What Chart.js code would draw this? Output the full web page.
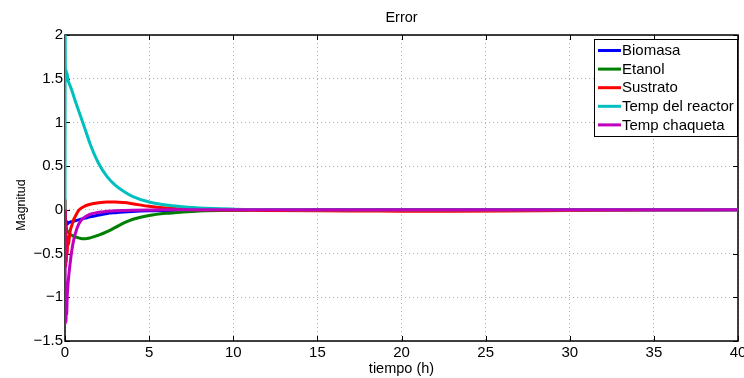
<!DOCTYPE html>
<html>
<head>
<meta charset="utf-8">
<script src="https://cdn.jsdelivr.net/npm/chart.js@4.4.1/dist/chart.umd.min.js"></script>
<style>
  html, body { margin: 0; padding: 0; background: #fff; }
</style>
</head>
<body>
<canvas id="errorChart" width="744" height="378"></canvas>
<script>
// time grid (h), dense near 0 where the transients are
const tiempo   = [0, 0.01, 0.02, 0.04, 0.06, 0.08, 0.1, 0.13, 0.16, 0.2, 0.3, 0.4, 0.5, 0.6, 0.8, 1, 1.2, 1.5, 2, 2.5, 3, 3.5, 4, 5, 6, 7, 8, 10, 12, 15, 18, 20, 23, 26, 30, 35, 40];

const biomasa  = [0, -0.1, -0.15, -0.12, -0.18, -0.13, -0.17, -0.14, -0.16, -0.15, -0.14, -0.135, -0.13, -0.125, -0.115, -0.105, -0.095, -0.08, -0.06, -0.042, -0.032, -0.024, -0.018, -0.01, -0.006, -0.004, -0.003, -0.001, 0, 0, 0, 0, 0, 0, 0, 0, 0];
const etanol   = [0, -0.05, -0.1, -0.15, -0.18, -0.2, -0.22, -0.24, -0.25, -0.26, -0.28, -0.29, -0.3, -0.31, -0.32, -0.33, -0.33, -0.32, -0.29, -0.25, -0.2, -0.15, -0.11, -0.065, -0.04, -0.025, -0.014, -0.005, -0.002, 0, 0, 0, 0, 0, 0, 0, 0];
const sustrato = [0, 0.1, -0.2, -0.65, -0.25, -0.6, -0.3, -0.5, -0.32, -0.4, -0.25, -0.18, -0.12, -0.08, -0.01, 0.025, 0.045, 0.065, 0.082, 0.09, 0.09, 0.083, 0.07, 0.04, 0.02, 0.008, 0.002, -0.003, -0.006, -0.01, -0.013, -0.015, -0.016, -0.014, -0.008, -0.003, 0];
const tempReactor  = [0, 2.0, 1.55, 1.62, 1.5, 1.6, 1.48, 1.56, 1.5, 1.47, 1.42, 1.37, 1.31, 1.25, 1.14, 1.03, 0.92, 0.75, 0.53, 0.38, 0.28, 0.21, 0.155, 0.09, 0.055, 0.035, 0.02, 0.008, 0.004, 0.002, 0, 0, 0, 0, 0, 0, 0];
const tempChaqueta = [0, -0.9, -1.3, -1.0, -1.28, -1.05, -1.2, -1.0, -0.9, -0.8, -0.62, -0.47, -0.36, -0.28, -0.17, -0.11, -0.08, -0.05, -0.028, -0.017, -0.01, -0.007, -0.005, -0.002, 0, 0, 0, 0, 0, 0, 0, 0, 0, 0, 0, 0, 0];

const seriesNames  = ['Biomasa', 'Etanol', 'Sustrato', 'Temp del reactor', 'Temp chaqueta'];
const seriesValues = [biomasa, etanol, sustrato, tempReactor, tempChaqueta];
const seriesColors = ['#0000ff', '#008000', '#ff0000', '#00bfbf', '#bf00bf'];

const FONT = "'Liberation Sans', Arial, Helvetica, sans-serif";

// matlab look: box, inward ticks, boxed legend, title and y label
const matlabAxes = {
  id: 'matlabAxes',
  beforeDatasetsDraw(chart) {
    const { ctx, chartArea: a, scales: { x, y } } = chart;
    ctx.save();
    ctx.strokeStyle = '#000';
    ctx.lineWidth = 1;
    ctx.beginPath();
    x.ticks.forEach(t => {
      const px = Math.round(x.getPixelForValue(t.value)) + 0.5;
      ctx.moveTo(px, a.bottom); ctx.lineTo(px, a.bottom - 5);
      ctx.moveTo(px, a.top); ctx.lineTo(px, a.top + 5);
    });
    y.ticks.forEach(t => {
      const py = Math.round(y.getPixelForValue(t.value)) + 0.5;
      ctx.moveTo(a.left, py); ctx.lineTo(a.left + 5, py);
      ctx.moveTo(a.right, py); ctx.lineTo(a.right - 5, py);
    });
    ctx.stroke();
    ctx.lineWidth = 1.5;
    ctx.strokeRect(a.left, a.top, a.right - a.left, a.bottom - a.top);
    ctx.restore();
  },
  afterDraw(chart) {
    const { ctx, chartArea: a } = chart;
    ctx.save();
    ctx.fillStyle = '#000';
    ctx.textAlign = 'center';
    ctx.textBaseline = 'middle';
    // title over the axes centre
    ctx.font = '14.5px ' + FONT;
    ctx.fillText('Error', (a.left + a.right) / 2, 18);
    // y axis label
    ctx.translate(22, 205);
    ctx.rotate(-Math.PI / 2);
    ctx.font = '12.5px ' + FONT;
    ctx.fillText('Magnitud', 0, 0);
    ctx.restore();

    // legend box
    ctx.save();
    const bx = 594, by = 39, bw = 143, bh = 97;
    ctx.fillStyle = '#fff';
    ctx.fillRect(bx, by, bw, bh);
    ctx.strokeStyle = '#000';
    ctx.lineWidth = 1;
    ctx.strokeRect(bx + 0.5, by + 0.5, bw, bh);
    ctx.font = '15px ' + FONT;
    ctx.textBaseline = 'middle';
    ctx.textAlign = 'left';
    seriesNames.forEach((name, i) => {
      const ly = by + 11.5 + i * 18.6;
      ctx.strokeStyle = seriesColors[i];
      ctx.lineWidth = 3;
      ctx.beginPath();
      ctx.moveTo(598, ly); ctx.lineTo(621, ly);
      ctx.stroke();
      ctx.fillStyle = '#000';
      ctx.fillText(name, 622, ly + 0.5);
    });
    ctx.restore();
  }
};

const ctx = document.getElementById('errorChart').getContext('2d');

new Chart(ctx, {
  type: 'line',
  data: {
    datasets: seriesNames.map((name, i) => ({
      label: name,
      data: tiempo.map((t, k) => ({ x: t, y: seriesValues[i][k] })),
      borderColor: seriesColors[i],
      backgroundColor: seriesColors[i],
      borderWidth: 3,
      pointRadius: 0,
      cubicInterpolationMode: 'monotone',
      fill: false,
      order: seriesNames.length - i
    }))
  },
  options: {
    responsive: false,
    animation: false,
    devicePixelRatio: 1,
    layout: { padding: { left: 0, right: 6, top: 35, bottom: 0 } },
    plugins: {
      legend: { display: false },
      tooltip: { enabled: false },
      title: { display: false }
    },
    scales: {
      x: {
        type: 'linear',
        min: 0,
        max: 40,
        afterFit(scale) {
          scale.height = 37;
          scale.paddingLeft = 0;
          scale.paddingRight = 0;
        },
        ticks: {
          stepSize: 5,
          color: '#000',
          font: { family: FONT, size: 15 },
          padding: 3,
          maxRotation: 0,
          autoSkip: false
        },
        grid: { color: '#b4b4b4', lineWidth: 1, drawTicks: false },
        border: { display: false, dash: [1, 3] },
        title: {
          display: true,
          text: 'tiempo (h)',
          color: '#000',
          font: { family: FONT, size: 14.5 },
          padding: { top: 0, bottom: 0 }
        }
      },
      y: {
        min: -1.5,
        max: 2,
        afterFit(scale) {
          scale.width = 65;
        },
        ticks: {
          stepSize: 0.5,
          color: '#000',
          font: { family: FONT, size: 15 },
          padding: 2,
          callback: v => String(v).replace('-', '\u2212')
        },
        grid: { color: '#b4b4b4', lineWidth: 1, drawTicks: false },
        border: { display: false, dash: [1, 3] }
      }
    }
  },
  plugins: [matlabAxes]
});
</script>
</body>
</html>
